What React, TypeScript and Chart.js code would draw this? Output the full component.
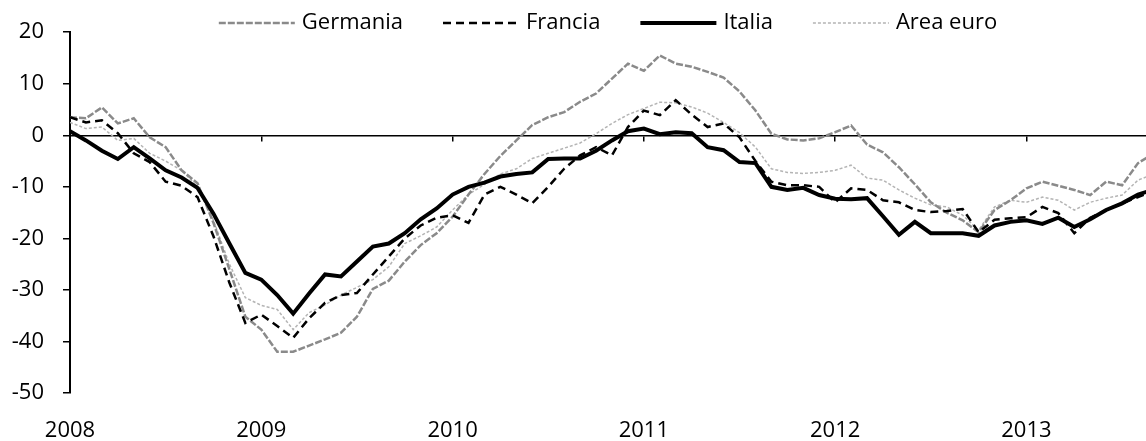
import React, { useEffect, useRef } from 'react';
import { Chart, registerables } from 'chart.js';

Chart.register(...registerables);

// Month index 0 = January 2008
const yearLabels: string[] = ['2008', '2009', '2010', '2011', '2012', '2013'];
const seriesNames: string[] = ['Germania', 'Francia', 'Italia', 'Area euro'];

const germania: number[] = [3.5, 3.3, 5.4, 2.3, 3.3, -0.4, -2.3, -6.8, -9.3, -17, -26, -35.2, -37.7, -42, -42, -40.8, -39.6, -38.3, -35.2, -29.8, -28.2, -24.5, -21.3, -19, -15.8, -11.5, -7.5, -4, -1, 2, 3.5, 4.5, 6.5, 8.1, 11, 13.9, 12.5, 15.5, 13.9, 13.3, 12.3, 11.2, 8.5, 4.8, 0.3, -0.8, -1, -0.6, 0.6, 1.9, -1.8, -3.3, -6.2, -9.5, -13, -15, -16.5, -18.8, -14.5, -12.6, -10.3, -9, -9.8, -10.6, -11.6, -9, -9.7, -5.4, -3.5];
const francia: number[] = [3.5, 2.5, 2.9, 0.4, -3.5, -5.2, -9, -9.8, -12, -19.6, -28.6, -36.4, -34.8, -37, -39.3, -35.5, -32.5, -31, -30.6, -27, -23.5, -20, -17.5, -16, -15.5, -17, -11.5, -10, -11.5, -13.2, -10, -6.5, -3.9, -2.3, -3.9, 1.6, 4.8, 3.9, 6.8, 4, 1.6, 2.3, -0.4, -5, -9, -9.7, -9.7, -10, -13, -10.3, -10.6, -12.6, -13, -14.5, -14.9, -14.7, -14.3, -18.8, -16.4, -16.1, -15.9, -13.9, -15.1, -19, -16, -14.5, -13.2, -12, -10.8];
const italia: number[] = [0.8, -1, -3, -4.6, -2.3, -4.5, -6.8, -8.2, -10.2, -15.2, -21, -26.7, -28, -31, -34.6, -30.7, -27, -27.4, -24.5, -21.6, -21, -19, -16.3, -14.2, -11.5, -10, -9.2, -8, -7.5, -7.2, -4.6, -4.5, -4.5, -3, -1, 0.8, 1.3, 0.2, 0.6, 0.4, -2.3, -2.9, -5.2, -5.4, -10, -10.6, -10.2, -11.6, -12.3, -12.4, -12.2, -15.7, -19.3, -16.8, -19, -19, -19, -19.5, -17.5, -16.8, -16.5, -17.2, -16, -17.8, -16.3, -14.5, -13.2, -11.5, -10.5];
const areaEuro: number[] = [2.5, 1.3, 1.6, -1, -0.6, -3.5, -5, -6.8, -10, -16.5, -25, -31.5, -33, -33.8, -37.7, -34.4, -32.9, -31, -29.5, -28, -25.5, -21, -19.5, -17.8, -14.5, -11.5, -9.5, -7.5, -6.5, -4.5, -3.5, -2.5, -1.5, 0.3, 2.3, 4, 5.2, 6.4, 6.3, 5.5, 4.3, 2.5, 0.5, -2.3, -6.5, -7.2, -7.4, -7.2, -6.8, -5.8, -8.3, -8.7, -10.6, -12.2, -13.5, -13.9, -15.5, -18.4, -13.9, -12.6, -13, -12, -12.6, -14.5, -13, -12.2, -11.6, -8.7, -7.5];

const yTickValues: number[] = [20, 10, 0, -10, -20, -30, -40, -50];

const FONT_FAMILY = '"Open Sans", "DejaVu Sans", sans-serif';
const FONT_SIZE = 22;

const toPoints = (values: number[]) => values.map((v, i) => ({ x: i, y: v }));

const legendPlugin = {
  id: 'lineLegend',
  afterDraw(chart: any) {
    const ctx = chart.ctx;
    const area = chart.chartArea;
    const SAMPLE = 76;
    const GAP = 7;
    const SPACING = 40;
    const y = 23;
    ctx.save();
    ctx.font = `${FONT_SIZE}px ${FONT_FAMILY}`;
    const items = chart.data.datasets.map((ds: any) => ({ ds, w: ctx.measureText(ds.label).width }));
    const total = items.reduce((s: number, it: any) => s + SAMPLE + GAP + it.w, 0) + SPACING * (items.length - 1);
    let x = (area.left + area.right) / 2 - total / 2;
    for (const it of items) {
      ctx.beginPath();
      ctx.setLineDash(it.ds.borderDash || []);
      ctx.lineWidth = it.ds.borderWidth;
      ctx.strokeStyle = it.ds.borderColor;
      ctx.moveTo(x, y);
      ctx.lineTo(x + SAMPLE, y);
      ctx.stroke();
      ctx.setLineDash([]);
      ctx.fillStyle = '#000';
      ctx.textBaseline = 'middle';
      ctx.textAlign = 'left';
      ctx.fillText(it.ds.label, x + SAMPLE + GAP, y);
      x += SAMPLE + GAP + it.w + SPACING;
    }
    ctx.restore();
  },
};

export default function App() {
  const canvasRef = useRef<HTMLCanvasElement | null>(null);

  useEffect(() => {
    if (!canvasRef.current) return;
    const font = { family: FONT_FAMILY, size: FONT_SIZE };
    const chart = new Chart(canvasRef.current, {
      type: 'line',
      data: {
        datasets: [
          {
            label: seriesNames[0],
            data: toPoints(germania),
            borderColor: '#8a8a8a',
            borderWidth: 2.5,
            borderDash: [7, 2],
            order: 2,
          },
          {
            label: seriesNames[1],
            data: toPoints(francia),
            borderColor: '#000000',
            borderWidth: 2.5,
            borderDash: [8, 5],
            order: 1,
          },
          {
            label: seriesNames[2],
            data: toPoints(italia),
            borderColor: '#000000',
            borderWidth: 4,
            order: 0,
          },
          {
            label: seriesNames[3],
            data: toPoints(areaEuro),
            borderColor: '#b4b4b4',
            borderWidth: 1.5,
            borderDash: [3, 2],
            order: 3,
          },
        ],
      },
      options: {
        responsive: false,
        animation: false,
        layout: { padding: { top: 32, right: 0, bottom: 0, left: 0 } },
        plugins: { legend: { display: false }, tooltip: { enabled: false } },
        elements: { point: { radius: 0 }, line: { tension: 0 } },
        scales: {
          x: {
            type: 'linear',
            position: 'bottom',
            min: 0,
            max: 67.5,
            afterFit: (s: any) => {
              s.height = 48;
            },
            border: { display: false },
            grid: { display: false, drawTicks: false },
            ticks: {
              stepSize: 12,
              includeBounds: false,
              padding: 25,
              color: '#000',
              font,
              maxRotation: 0,
              autoSkip: false,
              callback: (v: any) => yearLabels[Math.round(Number(v) / 12)] ?? '',
            },
          },
          x0: {
            type: 'linear',
            axis: 'x',
            position: { y: 0 },
            min: 0,
            max: 67.5,
            ticks: { display: false, stepSize: 12, includeBounds: false },
            grid: { drawOnChartArea: false, drawTicks: true, tickLength: 5, color: '#000', lineWidth: 1.5 },
            border: { display: true, color: '#000', width: 1.5 },
          },
          y: {
            type: 'linear',
            min: -50,
            max: 20,
            afterFit: (s: any) => {
              s.width = 70;
            },
            afterBuildTicks: (s: any) => {
              s.ticks = yTickValues.map((v) => ({ value: v }));
            },
            ticks: { padding: 19, color: '#000', font },
            grid: { drawOnChartArea: false, drawTicks: true, tickLength: 7, color: '#000', lineWidth: 1.5 },
            border: { display: true, color: '#000', width: 2 },
          },
        },
      } as any,
      plugins: [legendPlugin],
    });
    return () => chart.destroy();
  }, []);

  return (
    <div style={{ position: 'absolute', left: 0, top: 0, width: 1146, height: 441, background: '#fff' }}>
      <canvas ref={canvasRef} width={1146} height={441} style={{ display: 'block' }} />
    </div>
  );
}
